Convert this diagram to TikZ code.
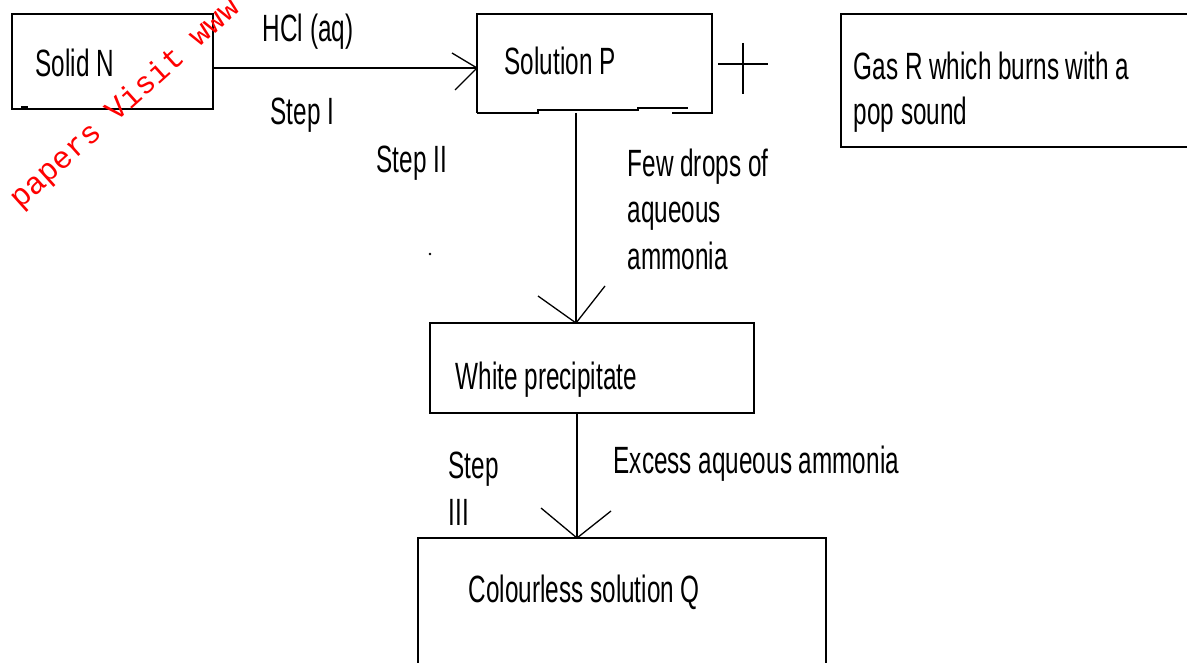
\documentclass[tikz,border=0pt]{standalone}
\usepackage{fontspec}
\setmainfont{Liberation Sans}[FakeStretch=0.64]
\newfontfamily\wmfont{Liberation Mono}
\begin{document}
\begin{tikzpicture}[x=1pt,y=-1pt,line width=1.5pt,
  box/.style={draw,line width=1.5pt,anchor=north west,inner sep=0pt,outer sep=0pt},
  lbl/.style={anchor=base west,inner sep=0pt,font=\fontsize{38}{46}\selectfont},
  wm/.style={anchor=base west,inner sep=0pt,text=red,font=\wmfont\fontsize{31}{36}\selectfont},
  conn/.style={line width=1.5pt},
  barb/.style={line width=1.3pt}]
\useasboundingbox (0,0) rectangle (1187,663);
\clip (0,0) rectangle (1187,663);
\fill[white] (0,0) rectangle (1187,663);

% boxes
\node[box,minimum width=201pt,minimum height=95pt] (sn) at (12,14) {};
\node[draw=none,anchor=north west,inner sep=0pt,outer sep=0pt,minimum width=235pt,minimum height=99pt] (sp) at (477,14) {};
\draw (sp.south west) -- (sp.north west) -- (sp.north east) -- (sp.south east) -- ++(-40,0);
\draw (sp.south west) -- ++(61,0) -- ++(0,-3) -- ++(100,0) -- ++(0,-2) -- ++(50,0);
\node[box,minimum width=400pt,minimum height=133pt] (gr) at (841,14) {};
\node[box,minimum width=324pt,minimum height=90pt] (wp) at (430,323) {};
\node[box,minimum width=408pt,minimum height=200pt] (cq) at (418,538) {};

% small marks
\fill (21,106) rectangle (28,109);
\fill (430,254) circle (1.3pt);

% plus sign
\draw (718,64) -- (768,64) (743,43) -- (743,94);

% connectors
\coordinate (t0) at (sp.west |- 0,68);
\draw[conn] (sn.east |- t0) -- (t0);
\draw[barb] (t0) -- ++(-25,-15) (t0) -- ++(-22,22);

\coordinate (t1) at (wp.north -| 576,0);
\draw[conn] (sp.south -| t1) -- (t1);
\draw[barb] (t1) -- ++(-38,-27) (t1) -- ++(29,-37);

\coordinate (t2) at (cq.north -| 577,0);
\draw[conn] (wp.south -| t2) -- (t2);
\draw[barb] (t2) -- ++(-36,-30) (t2) -- ++(34,-27);

% labels
\node[lbl] (lsn) at (35,77) {Solid N};
\node[lbl] (lhcl) at (262,42) {HCl (aq)};
\node[lbl] (ls1) at (270,125) {Step I};
\node[lbl] (ls2) at (376,173) {Step II};
\node[lbl] (lsp) at (504,75) {Solution P};
\node[lbl] (lgr1) at (853,80) {Gas R which burns with a};
\node[lbl] (lgr2) at (853,125) {pop sound};
\node[lbl] (lf1) at (627,177) {Few drops of};
\node[lbl] (lf2) at (627,223) {aqueous};
\node[lbl] (lf3) at (627,270) {ammonia};
\node[lbl] (lwp) at (455,389) {White precipitate};
\node[lbl] (ls3a) at (448,478) {Step};
\node[lbl] (ls3b) at (448,525) {III};
\node[lbl] (lex) at (613,473) {Excess aqueous ammonia};
\node[lbl] (lcq) at (468,602) {Colourless solution Q};

% watermark
\node[wm,rotate=42] (wmk) at (-8,235) {r papers Visit www};
\end{tikzpicture}
\end{document}
